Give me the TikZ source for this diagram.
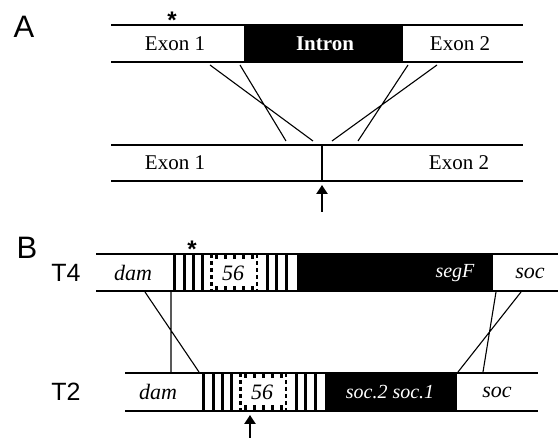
\documentclass[tikz,border=0pt]{standalone}
\usepackage{fontspec}
\setmainfont{Liberation Serif}
\newfontfamily\labfont{Liberation Sans}
\usetikzlibrary{arrows.meta}
\tikzset{
  strand/.style={line width=1.4pt},
  crossline/.style={line width=1.1pt},
  txt/.style={font=\fontsize{21}{24}\selectfont, inner sep=0pt},
  itx/.style={font=\fontsize{22}{24}\selectfont\itshape, inner sep=0pt},
  wtx/.style={font=\fontsize{21}{24}\selectfont\bfseries, text=white, inner sep=0pt},
  witx/.style={font=\fontsize{20}{24}\selectfont\itshape, text=white, inner sep=0pt},
  panel/.style={font=\fontsize{31}{34}\selectfont\labfont, inner sep=0pt},
  tlab/.style={font=\fontsize{25}{28}\selectfont\labfont, inner sep=0pt},
  star/.style={font=\fontsize{24}{26}\selectfont\labfont\bfseries, inner sep=0pt, anchor=north},
  uparrow/.style={line width=2.4pt, -{Triangle[length=9pt,width=11pt]}},
  stripes/.pic={
    \foreach \xx in {0,9.5,18.5,27.5,92.5,102,111.5} \fill (\xx,0) rectangle ++(3.2,37.5);
    \draw[line width=2.8pt, dash pattern=on 4pt off 3pt] (38.5,0) -- (38.5,37.5) (84,0) -- (84,37.5);
    \foreach \xx in {42,51,60,69,78} {\fill (\xx,0) rectangle ++(3,5); \fill (\xx,37.5) rectangle ++(3,-5);}
  }
}
\begin{document}
\begin{tikzpicture}[x=1pt,y=-1pt]
\fill[white] (0,0) rectangle (558,438);
\useasboundingbox (0,0) rectangle (558,438);
% ---------- Panel A ----------
\node[panel] (A) at (24,27) {A};
\fill (244,25) rectangle (403,62);
\draw[strand] (111,25) -- (523,25) (111,62) -- (523,62);
\node[star] (starA) at (172,11.5) {*};
\node[txt] (ex1t) at (175,44) {Exon 1};
\node[wtx] (intr) at (325,44) {Intron};
\node[txt] (ex2t) at (460,44) {Exon 2};
% bottom strand
\draw[strand] (111,145) -- (523,145) (111,181) -- (523,181);
\coordinate (jt) at (322,145);
\coordinate (jb) at (322,181);
\draw[strand] (jt) -- (jb);
\node[txt] (ex1b) at (175,163) {Exon 1};
\node[txt] (ex2b) at (459,163) {Exon 2};
% crossing lines
\coordinate (a1) at (210,65);  \coordinate (b1) at (313,141);
\coordinate (a2) at (240,65);  \coordinate (b2) at (286,141);
\coordinate (a3) at (437,65);  \coordinate (b3) at (332,141);
\coordinate (a4) at (408,65);  \coordinate (b4) at (358,141);
\draw[crossline] (a1) -- (b1) (a2) -- (b2) (a3) -- (b3) (a4) -- (b4);
% arrow
\coordinate (arA0) at (322,212);
\coordinate (arA1) at (322,185);
\draw[uparrow] (arA0) -- (arA1);
% ---------- Panel B ----------
\node[panel] (B) at (27,248) {B};
\node[tlab] (T4) at (66,273) {T4};
\node[tlab] (T2) at (66,392) {T2};
% T4 strand
\fill (297,254) rectangle (493,291);
\pic at (173,254) {stripes};
\draw[strand] (96,254) -- (558,254) (96,291) -- (558,291);
\node[star] (starB) at (192,240.5) {*};
\node[itx] (damA) at (133,273) {dam};
\node[itx] (n56a) at (233,273) {56};
\node[witx] (segF) at (455,273) {segF};
\node[itx] (socA) at (530,273) {soc};
% T2 strand
\fill (325,373) rectangle (457,411);
\pic at (202,373) {stripes};
\draw[strand] (125,373) -- (538,373) (125,411) -- (538,411);
\node[itx] (damB) at (158,392) {dam};
\node[itx] (n56b) at (262,392) {56};
\node[witx] (socs) at (390,392) {soc.2 soc.1};
\node[itx] (socB) at (497,392) {soc};
% crossing lines B
\coordinate (c1) at (171,292); \coordinate (d1) at (171,372);
\coordinate (c2) at (145,292); \coordinate (d2) at (199,372);
\coordinate (c3) at (521,292); \coordinate (d3) at (458,372);
\coordinate (c4) at (496,292); \coordinate (d4) at (483,372);
\draw[crossline] (c1) -- (d1) (c2) -- (d2) (c3) -- (d3) (c4) -- (d4);
% arrow B
\coordinate (arB0) at (250,438);
\coordinate (arB1) at (250,415);
\draw[uparrow] (arB0) -- (arB1);
\end{tikzpicture}
\end{document}
